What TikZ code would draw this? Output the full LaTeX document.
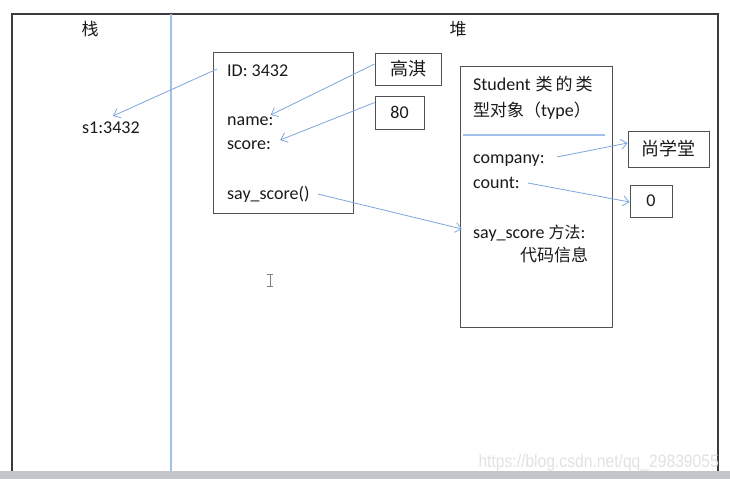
\documentclass[tikz,border=0pt]{standalone}
\usepackage{fontspec}
\setmainfont{Carlito}
\newfontfamily\cjk{Noto Sans CJK SC}
\newfontfamily\wmfont{Liberation Sans}
\usetikzlibrary{arrows.meta,calc}
\definecolor{txt}{HTML}{1A1A1A}
\definecolor{boxc}{HTML}{505050}
\definecolor{framec}{HTML}{3C3C3C}
\definecolor{divc}{HTML}{A2C0EA}
\definecolor{arrc}{HTML}{7EA6DC}
\definecolor{bandc}{HTML}{C4C4CC}
\definecolor{wmc}{HTML}{E2E2E2}
\begin{document}
\begin{tikzpicture}[x=1pt,y=-1pt,
  lbl/.style={anchor=base west, inner sep=0pt, font=\fontsize{18}{20}\selectfont, text=txt},
  hdr/.style={inner sep=0pt, font=\cjk\fontsize{17}{20}\selectfont, text=txt},
  objbox/.style={draw=boxc, line width=0.8pt, inner sep=0pt},
  valbox/.style={draw=boxc, line width=0.8pt, inner sep=0pt, font=\fontsize{18}{20}\selectfont, text=txt},
  ptr/.style={draw=arrc, line width=0.8pt, -{Straight Barb[length=6pt,width=10pt]}},
  divider/.style={draw=divc, line width=1.1pt}]
\useasboundingbox (0,0) rectangle (730,479);
\fill[white] (0,0) rectangle (730,479);
\fill[bandc] (0,471) rectangle (730,479);
\draw[framec, line width=1.2pt] (12,471) -- (12,14) -- (718,14) -- (718,471);
\draw[divider] (171,14) -- (171,471);
% headers
\node[hdr] (zhan) at (90,29) {栈};
\node[hdr] (dui) at (458,29) {堆};
% stack
\node[lbl] (s1) at (82,133) {s1:3432};
% instance object
\node[objbox, minimum width=140pt, minimum height=161pt] (obj) at (283,132.5) {};
\node[lbl] (id) at (227,76) {ID: 3432};
\node[lbl] (name) at (227,125) {name:};
\node[lbl] (score) at (227,149) {score:};
\node[lbl] (say) at (227,199) {say\_score()};
% values
\node[valbox, minimum width=66pt, minimum height=32pt] (gq) at (408,69) {\cjk 高淇};
\node[valbox, minimum width=49pt, minimum height=33pt] (b80) at (399.5,112.5) {80};
% class object
\node[objbox, minimum width=152pt, minimum height=261pt] (stu) at (536,196.5) {};
\node[lbl] (stu1) at (473,90) {Student\hspace{5pt}{\cjk\fontsize{17}{20}\selectfont 类\kern3pt 的\kern3pt 类}};
\node[lbl] (stu2) at (473,116) {{\cjk\fontsize{17}{20}\selectfont 型对象（}type{\cjk\fontsize{17}{20}\selectfont ）}};
\draw[divider] (463,135) -- (605,135);
\node[lbl] (company) at (473,163) {company:};
\node[lbl] (count) at (473,188) {count:};
\node[lbl] (method) at (473,238) {say\_score {\cjk\fontsize{16}{20}\selectfont 方法}:};
\node[lbl] (code) at (520,261) {\cjk\fontsize{17}{20}\selectfont 代码信息};
\node[valbox, minimum width=81pt, minimum height=36pt] (sxt) at (668.5,149) {\cjk 尚学堂};
\node[valbox, minimum width=42pt, minimum height=32pt] (b0) at (651,201) {0};
% pointers
\draw[ptr] ($(id.base west)+(-10,-7)$) -- ($(s1.base west)+(31,-17)$);
\draw[ptr] ($(gq.west)+(0,-5)$) -- ($(name.base east)+(-3,-10)$);
\draw[ptr] ($(b80.west)+(0,-10)$) -- ($(score.base east)+(9,-9)$);
\draw[ptr] ($(say.base east)+(8,-5)$) -- ($(method.base west)+(-11,-9)$);
\draw[ptr] ($(company.base east)+(12,-6)$) -- ($(sxt.west)+(0,-6)$);
\draw[ptr] ($(count.base east)+(8,-5)$) -- ($(b0.west)+(0,1)$);
% text cursor
\draw[gray, line width=0.9pt] (267,274) -- (273,274) (270,274) -- (270,286) (267,286) -- (273,286);
% watermark
\node[anchor=base east, inner sep=0pt, font=\wmfont\fontsize{18}{20}\selectfont, text=wmc, xscale=0.87] (wm) at (719,467) {https://blog.csdn.net/qq\_29839055};
\end{tikzpicture}
\end{document}
